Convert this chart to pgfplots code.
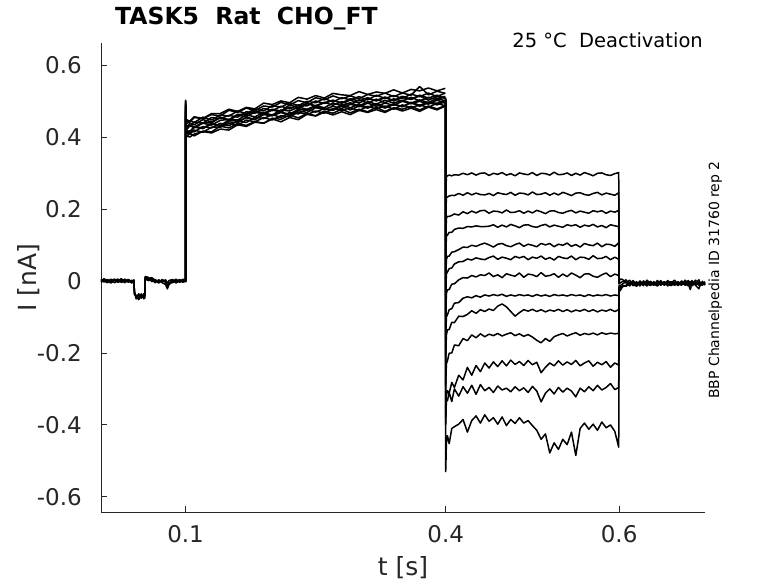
\documentclass[border=0pt]{standalone}
\usepackage{fontspec}
\setmainfont{DejaVu Sans}
\usepackage{pgfplots}
\usepackage{pgfplotstable}
\pgfplotsset{compat=1.18}
\definecolor{axgray}{HTML}{262626}

\pgfplotstableread{
t p1 p2 p3 p4
0.0025 0.002 -0.004 0.005 -0.002
0.006 -0.003 0.003 0.000 0.006
0.010 0.004 -0.002 -0.005 0.001
0.014 -0.001 0.005 0.002 -0.006
0.018 0.005 -0.005 0.004 0.002
0.022 -0.004 0.001 -0.003 0.005
0.026 0.002 0.006 -0.001 -0.004
0.030 -0.005 -0.002 0.005 0.000
0.034 0.003 0.002 -0.004 0.004
0.038 -0.002 -0.006 0.002 -0.003
0.0405 0.001 0.003 -0.002 0.002
0.041 -0.030 -0.038 -0.028 -0.035
0.043 -0.045 -0.040 -0.050 -0.042
0.046 -0.038 -0.047 -0.036 -0.052
0.049 -0.048 -0.036 -0.044 -0.040
0.052 -0.035 -0.050 -0.041 -0.046
0.053 -0.042 -0.034 -0.048 -0.038
0.0535 0.008 0.012 0.005 0.010
0.057 0.004 0.010 0.001 0.007
0.061 0.006 -0.002 0.004 0.009
0.065 -0.003 0.004 -0.005 0.002
0.069 0.002 -0.004 0.003 -0.006
0.073 -0.005 0.002 -0.002 0.004
0.077 -0.010 -0.004 0.003 -0.002
0.079 -0.022 -0.012 -0.006 -0.018
0.081 -0.008 -0.004 0.001 -0.010
0.085 0.003 -0.005 0.004 -0.002
0.089 -0.004 0.002 -0.006 0.005
0.093 0.004 -0.003 0.002 -0.004
0.097 -0.002 0.005 -0.004 0.001
0.0995 0.003 -0.002 0.005 -0.003
}\pretable

\pgfplotstableread{
t a1 a2 a3 a4 a5 a6 a7 a8 a9 a10 a11 a12 a13
0.1 0.002 -0.003 0.004 -0.002 0.001 -0.004 0.003 -0.001 0.002 -0.003 0.001 -0.002 0.003
0.1 0.500 0.490 0.480 0.470 0.502 0.460 0.485 0.455 0.495 0.470 0.490 0.475 0.500
0.1008 0.445 0.435 0.430 0.429 0.419 0.418 0.408 0.410 0.400 0.402 0.424 0.419 0.448
0.105 0.441 0.445 0.429 0.433 0.431 0.415 0.417 0.408 0.410 0.400 0.438 0.411 0.444
0.11 0.454 0.440 0.442 0.428 0.426 0.429 0.414 0.419 0.403 0.408 0.434 0.427 0.456
0.12 0.451 0.455 0.438 0.440 0.438 0.425 0.429 0.413 0.416 0.415 0.448 0.423 0.451
0.13 0.462 0.447 0.454 0.439 0.433 0.437 0.425 0.427 0.414 0.411 0.442 0.436 0.465
0.14 0.458 0.461 0.451 0.454 0.446 0.432 0.438 0.427 0.430 0.422 0.454 0.430 0.465
0.15 0.474 0.458 0.460 0.446 0.449 0.447 0.431 0.437 0.425 0.419 0.448 0.442 0.477
0.16 0.468 0.472 0.455 0.460 0.447 0.444 0.445 0.432 0.437 0.434 0.463 0.439 0.471
0.17 0.480 0.465 0.470 0.457 0.461 0.453 0.440 0.447 0.432 0.429 0.462 0.455 0.482
0.18 0.473 0.478 0.466 0.469 0.456 0.449 0.455 0.442 0.443 0.441 0.473 0.448 0.478
0.19 0.486 0.472 0.479 0.463 0.467 0.464 0.451 0.454 0.438 0.438 0.466 0.462 0.494
0.20 0.483 0.487 0.473 0.475 0.461 0.459 0.462 0.447 0.452 0.450 0.477 0.459 0.490
0.21 0.496 0.483 0.485 0.469 0.475 0.469 0.454 0.459 0.449 0.442 0.472 0.468 0.500
0.22 0.489 0.495 0.478 0.483 0.472 0.463 0.468 0.456 0.461 0.454 0.489 0.460 0.495
0.23 0.501 0.487 0.489 0.478 0.483 0.477 0.464 0.469 0.453 0.448 0.482 0.473 0.510
0.24 0.495 0.499 0.486 0.492 0.477 0.474 0.477 0.462 0.465 0.463 0.494 0.468 0.505
0.25 0.509 0.495 0.500 0.487 0.487 0.485 0.469 0.472 0.459 0.458 0.485 0.481 0.515
0.26 0.503 0.507 0.493 0.496 0.481 0.477 0.479 0.466 0.472 0.469 0.495 0.477 0.508
0.27 0.514 0.497 0.502 0.488 0.494 0.485 0.474 0.479 0.466 0.461 0.502 0.476 0.521
0.28 0.506 0.509 0.494 0.498 0.487 0.479 0.486 0.474 0.477 0.470 0.494 0.490 0.517
0.29 0.514 0.503 0.506 0.490 0.495 0.491 0.475 0.481 0.467 0.462 0.502 0.481 0.515
0.30 0.506 0.512 0.500 0.503 0.486 0.484 0.486 0.473 0.477 0.474 0.494 0.491 0.526
0.31 0.518 0.503 0.509 0.494 0.498 0.494 0.480 0.485 0.470 0.468 0.506 0.482 0.518
0.32 0.513 0.516 0.500 0.505 0.491 0.485 0.490 0.478 0.482 0.476 0.501 0.493 0.525
0.33 0.522 0.507 0.509 0.495 0.502 0.494 0.480 0.486 0.471 0.468 0.511 0.483 0.521
0.34 0.512 0.515 0.501 0.506 0.494 0.488 0.490 0.477 0.481 0.480 0.500 0.492 0.531
0.35 0.522 0.507 0.513 0.500 0.502 0.499 0.484 0.489 0.477 0.472 0.510 0.484 0.522
0.36 0.516 0.519 0.505 0.510 0.494 0.492 0.495 0.481 0.485 0.480 0.504 0.496 0.532
0.37 0.540 0.512 0.516 0.500 0.503 0.499 0.485 0.489 0.475 0.471 0.514 0.488 0.528
0.38 0.517 0.522 0.508 0.510 0.495 0.491 0.495 0.482 0.486 0.483 0.502 0.497 0.536
0.39 0.527 0.512 0.516 0.503 0.507 0.502 0.489 0.494 0.478 0.475 0.512 0.493 0.528
0.3995 0.521 0.522 0.508 0.513 0.500 0.494 0.498 0.486 0.487 0.486 0.507 0.502 0.535
}\acttable

\pgfplotstableread{
t b1 b2 b3 b4 b5 b6 b7 b8 b9 b10 b11 b12 b13
0.4 0.500 0.505 0.495 0.510 0.498 0.503 0.492 0.507 0.500 0.496 0.502 0.494 0.505
0.4 0.23 0.17 0.11 0.06 0.00 -0.04 -0.10 -0.16 -0.21 -0.29 -0.38 -0.40 -0.53
0.4008 0.290 0.232 0.175 0.125 0.060 0.020 -0.035 -0.100 -0.150 -0.230 -0.318 -0.330 -0.450
0.402 0.292 0.233 0.179 0.127 0.068 0.025 -0.025 -0.094 -0.136 -0.222 -0.305 -0.333 -0.430
0.404 0.294 0.236 0.179 0.135 0.069 0.034 -0.024 -0.080 -0.135 -0.201 -0.312 -0.310 -0.452
0.407 0.292 0.238 0.182 0.135 0.080 0.036 -0.009 -0.077 -0.115 -0.200 -0.282 -0.335 -0.410
0.41 0.295 0.237 0.186 0.143 0.081 0.047 -0.008 -0.062 -0.116 -0.178 -0.296 -0.300 -0.405
0.415 0.294 0.243 0.183 0.147 0.087 0.053 0.003 -0.060 -0.098 -0.180 -0.262 -0.320 -0.398
0.42 0.299 0.238 0.192 0.146 0.094 0.054 0.009 -0.048 -0.099 -0.160 -0.275 -0.294 -0.385
0.425 0.295 0.245 0.187 0.151 0.093 0.061 0.008 -0.044 -0.093 -0.166 -0.240 -0.312 -0.420
0.43 0.300 0.239 0.194 0.150 0.099 0.058 0.015 -0.047 -0.083 -0.150 -0.262 -0.290 -0.388
0.435 0.294 0.244 0.189 0.153 0.096 0.064 0.011 -0.041 -0.090 -0.158 -0.235 -0.315 -0.375
0.44 0.299 0.240 0.195 0.151 0.101 0.061 0.017 -0.045 -0.080 -0.147 -0.252 -0.288 -0.395
0.445 0.300 0.239 0.196 0.151 0.105 0.059 0.015 -0.039 -0.085 -0.155 -0.228 -0.305 -0.372
0.45 0.293 0.243 0.188 0.152 0.100 0.065 0.022 -0.042 -0.078 -0.148 -0.242 -0.296 -0.390
0.455 0.299 0.237 0.194 0.156 0.094 0.069 0.012 -0.038 -0.082 -0.152 -0.225 -0.310 -0.380
0.46 0.296 0.245 0.193 0.149 0.102 0.060 0.017 -0.041 -0.070 -0.146 -0.238 -0.292 -0.398
0.465 0.301 0.242 0.189 0.155 0.104 0.066 0.009 -0.037 -0.064 -0.153 -0.222 -0.303 -0.378
0.47 0.294 0.240 0.197 0.150 0.098 0.063 0.020 -0.043 -0.072 -0.148 -0.236 -0.298 -0.402
0.475 0.298 0.246 0.190 0.157 0.095 0.059 0.016 -0.039 -0.085 -0.144 -0.220 -0.308 -0.385
0.48 0.292 0.238 0.191 0.153 0.101 0.068 0.013 -0.042 -0.098 -0.152 -0.232 -0.294 -0.396
0.485 0.300 0.244 0.195 0.148 0.105 0.064 0.022 -0.038 -0.088 -0.147 -0.224 -0.305 -0.380
0.49 0.297 0.243 0.188 0.155 0.096 0.068 0.010 -0.041 -0.080 -0.154 -0.235 -0.297 -0.395
0.495 0.295 0.239 0.194 0.156 0.102 0.059 0.019 -0.039 -0.084 -0.149 -0.221 -0.310 -0.388
0.50 0.301 0.247 0.189 0.151 0.099 0.066 0.017 -0.043 -0.079 -0.156 -0.233 -0.293 -0.402
0.505 0.293 0.240 0.196 0.149 0.095 0.063 0.012 -0.038 -0.085 -0.165 -0.226 -0.306 -0.415
0.51 0.299 0.241 0.192 0.154 0.104 0.069 0.023 -0.042 -0.080 -0.172 -0.255 -0.336 -0.440
0.515 0.298 0.245 0.187 0.157 0.100 0.060 0.013 -0.039 -0.086 -0.160 -0.240 -0.312 -0.425
0.52 0.294 0.238 0.194 0.150 0.104 0.065 0.015 -0.043 -0.081 -0.168 -0.228 -0.300 -0.478
0.525 0.302 0.244 0.195 0.155 0.095 0.058 0.020 -0.038 -0.084 -0.155 -0.236 -0.314 -0.450
0.53 0.295 0.239 0.190 0.152 0.102 0.068 0.010 -0.041 -0.079 -0.150 -0.222 -0.296 -0.468
0.535 0.296 0.246 0.188 0.149 0.099 0.064 0.019 -0.039 -0.085 -0.146 -0.234 -0.309 -0.440
0.54 0.300 0.242 0.193 0.156 0.105 0.062 0.012 -0.042 -0.080 -0.153 -0.225 -0.298 -0.455
0.545 0.293 0.237 0.196 0.153 0.096 0.069 0.022 -0.038 -0.086 -0.148 -0.232 -0.306 -0.420
0.55 0.299 0.244 0.189 0.156 0.101 0.059 0.016 -0.041 -0.081 -0.144 -0.221 -0.322 -0.485
0.555 0.294 0.245 0.194 0.149 0.094 0.066 0.009 -0.039 -0.084 -0.151 -0.236 -0.298 -0.410
0.56 0.301 0.240 0.191 0.155 0.104 0.065 0.019 -0.043 -0.079 -0.146 -0.228 -0.308 -0.395
0.565 0.297 0.238 0.188 0.152 0.100 0.060 0.020 -0.038 -0.085 -0.149 -0.222 -0.294 -0.412
0.57 0.292 0.243 0.195 0.157 0.098 0.070 0.013 -0.042 -0.080 -0.145 -0.237 -0.305 -0.398
0.575 0.299 0.246 0.192 0.150 0.105 0.062 0.010 -0.039 -0.086 -0.150 -0.226 -0.290 -0.415
0.58 0.300 0.239 0.195 0.154 0.095 0.063 0.017 -0.041 -0.081 -0.144 -0.233 -0.303 -0.392
0.585 0.295 0.244 0.188 0.148 0.102 0.068 0.022 -0.038 -0.084 -0.148 -0.224 -0.296 -0.408
0.59 0.293 0.241 0.194 0.156 0.101 0.059 0.012 -0.042 -0.079 -0.145 -0.240 -0.285 -0.400
0.595 0.298 0.238 0.191 0.153 0.096 0.066 0.019 -0.039 -0.085 -0.147 -0.228 -0.302 -0.418
0.5995 0.301 0.245 0.196 0.151 0.106 0.060 0.015 -0.041 -0.080 -0.146 -0.234 -0.296 -0.462
0.6 0.005 0.003 0.000 -0.002 -0.005 -0.008 -0.010 -0.012 -0.015 -0.018 -0.022 -0.025 -0.030
}\tailtable

\pgfplotstableread{
t q1 q2 q3 q4 q5
0.6 -0.030 -0.022 -0.015 -0.008 0.002
0.602 -0.024 -0.012 -0.020 -0.004 0.005
0.604 -0.016 -0.008 -0.012 -0.002 0.004
0.608 -0.012 -0.002 -0.015 0.003 -0.006
0.612 -0.004 -0.014 -0.006 -0.011 0.002
0.616 -0.013 -0.003 -0.010 0.001 -0.009
0.620 -0.002 -0.012 -0.004 -0.010 -0.015
0.624 -0.011 0.000 -0.014 -0.005 -0.003
0.628 -0.005 -0.009 0.000 -0.013 -0.008
0.632 -0.014 -0.004 -0.008 0.002 -0.012
0.636 -0.001 -0.012 -0.013 -0.007 -0.002
0.640 -0.010 -0.002 -0.005 -0.012 -0.009
0.644 -0.004 -0.013 -0.009 0.001 -0.014
0.648 -0.012 -0.006 0.001 -0.009 -0.004
0.652 -0.002 -0.010 -0.012 -0.003 -0.011
0.656 -0.009 0.001 -0.006 -0.014 -0.002
0.660 -0.013 -0.008 -0.002 -0.005 -0.010
0.664 -0.003 -0.012 -0.011 0.002 -0.006
0.668 -0.011 -0.002 -0.007 -0.010 -0.013
0.672 0.000 -0.010 -0.012 -0.004 -0.003
0.676 -0.008 -0.005 0.002 -0.012 -0.010
0.680 -0.014 0.001 -0.009 -0.006 -0.004
0.682 -0.004 -0.012 -0.024 -0.002 -0.009
0.684 -0.010 -0.004 -0.008 -0.013 0.001
0.688 0.002 -0.011 -0.003 -0.007 -0.012
0.692 -0.009 -0.003 -0.012 0.003 -0.022
0.694 -0.013 -0.008 -0.004 -0.010 -0.006
0.696 -0.003 -0.012 -0.009 -0.001 -0.011
0.699 -0.010 -0.005 -0.002 -0.012 -0.004
}\posttable

\begin{document}
\begin{tikzpicture}
\useasboundingbox (0,0) rectangle (778pt,583pt);
\begin{axis}[
  at={(101pt,71pt)}, anchor=south west,
  scale only axis, width=604pt, height=469pt,
  xmin=0.0025, xmax=0.699, ymin=-0.642, ymax=0.661,
  axis x line*=bottom, axis y line*=left,
  axis line style={axgray, line width=0.8pt},
  xtick={0.1,0.4,0.6}, xticklabels={0.1,0.4,0.6},
  ytick={-0.6,-0.4,-0.2,0,0.2,0.4,0.6},
  yticklabels={-0.6,-0.4,-0.2,0,0.2,0.4,0.6},
  tick style={axgray, line width=0.8pt},
  major tick length=6pt, tick align=inside,
  ticklabel style={font=\fontsize{23}{27}\selectfont, text=axgray, inner sep=0pt},
  xticklabel style={anchor=north, yshift=-13pt},
  yticklabel style={anchor=east, xshift=-19pt},
  clip=false, no markers,
  trace/.style={black, solid, line width=1.5pt, line join=round, mark=none},
]
\foreach \c in {p1,p2,p3,p4} {\addplot[trace] table[x=t,y=\c] {\pretable};}
\foreach \c in {a1,a2,a3,a4,a5,a6,a7,a8,a9,a10,a11,a12,a13} {\addplot[trace] table[x=t,y=\c] {\acttable};}
\foreach \c in {b1,b2,b3,b4,b5,b6,b7,b8,b9,b10,b11,b12,b13} {\addplot[trace] table[x=t,y=\c] {\tailtable};}
\foreach \c in {q1,q2,q3,q4,q5} {\addplot[trace] table[x=t,y=\c] {\posttable};}
\end{axis}
\node[anchor=base west, inner sep=0pt, font=\fontsize{23.5}{28}\selectfont\bfseries] at (115pt,558pt) {TASK5\ \ Rat\ \ CHO\_FT};
\node[anchor=base east, inner sep=0pt, font=\fontsize{19.5}{23}\selectfont] at (703pt,535pt) {25 °C\ \ Deactivation};
\node[anchor=base, inner sep=0pt, font=\fontsize{25}{30}\selectfont, text=axgray] at (403pt,8pt) {t [s]};
\node[anchor=base, inner sep=0pt, rotate=90, font=\fontsize{25}{30}\selectfont, text=axgray] at (36pt,305.5pt) {I [nA]};
\node[anchor=base, inner sep=0pt, rotate=90, font=\fontsize{14}{17}\selectfont] at (719pt,303pt) {BBP Channelpedia ID 31760 rep 2};
\end{tikzpicture}
\end{document}
